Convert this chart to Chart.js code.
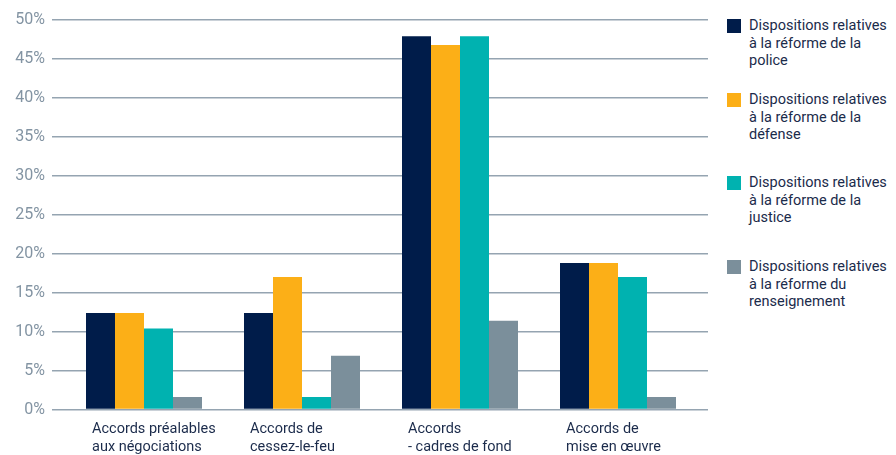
<!DOCTYPE html>
<html lang="fr">
<head>
<meta charset="utf-8">
<script src="https://cdn.jsdelivr.net/npm/chart.js@4/dist/chart.umd.min.js"></script>
<style>
  html, body { margin: 0; padding: 0; background: #fff; }
  #wrap { position: relative; width: 896px; height: 455px; overflow: hidden; font-family: Roboto, sans-serif; }
  #plot { position: absolute; left: 0; top: 0; width: 720px; height: 455px; }
  .leg-item { position: absolute; left: 727px; width: 169px; }
  .leg-box { position: absolute; left: 0; top: 0; width: 14px; height: 14px; }
  .leg-text { position: absolute; left: 22px; top: -2px; font-size: 14.5px; line-height: 17.5px; color: #1b2b4b; white-space: nowrap; }
</style>
</head>
<body>
<div id="wrap">
  <div id="plot"><canvas id="chartReforms"></canvas></div>
  <div id="legend"></div>
</div>
<script>
// === Data ===
const categories = [
    ['Accords préalables', 'aux négociations'],
    ['Accords de', 'cessez-le-feu'],
    ['Accords', '- cadres de fond'],
    ['Accords de', 'mise en œuvre']
];
const seriesNames = [
    ['Dispositions relatives', 'à la réforme de la', 'police'],
    ['Dispositions relatives', 'à la réforme de la', 'défense'],
    ['Dispositions relatives', 'à la réforme de la', 'justice'],
    ['Dispositions relatives', 'à la réforme du', 'renseignement']
];
const police = [12.4, 12.4, 47.9, 18.8];
const defense = [12.4, 17.0, 46.8, 18.8];
const justice = [10.4, 1.6, 47.9, 17.0];
const renseignement = [1.6, 6.9, 11.4, 1.6];
const yTicks = [0, 5, 10, 15, 20, 25, 30, 35, 40, 45, 50];

const seriesColors = ['#001c4a', '#fcaf17', '#00b2b0', '#7b8f9b'];
const legendTops = [19, 93, 176, 260];

const gridColor = '#95a4b1';
const tickColor = '#8394a3';
const textColor = '#1b2b4b';

// === Chart ===
const datasets = [police, defense, justice, renseignement].map((values, i) => ({
    label: seriesNames[i].join(' '),
    data: values,
    backgroundColor: seriesColors[i],
    borderWidth: 0,
    categoryPercentage: 116 / 158,
    barPercentage: 1.0
}));

const ctx = document.getElementById('chartReforms').getContext('2d');
new Chart(ctx, {
    type: 'bar',
    data: { labels: categories, datasets: datasets },
    options: {
        responsive: true,
        maintainAspectRatio: false,
        animation: false,
        layout: { padding: { top: 20, right: 12, bottom: 0, left: 0 } },
        plugins: {
            legend: { display: false },
            tooltip: { enabled: false }
        },
        scales: {
            x: {
                grid: { display: false, drawTicks: false },
                border: { display: false },
                ticks: {
                    align: 'start',
                    labelOffset: -52,
                    padding: 11,
                    maxRotation: 0,
                    autoSkip: false,
                    color: textColor,
                    font: { family: 'Roboto', size: 14.5, lineHeight: 1.24 }
                },
                afterFit: (scale) => {
                    // labels are shifted left, so no extra side margin is needed
                    scale.height = 45.5;
                    scale.paddingLeft = 0;
                    scale.paddingRight = 0;
                }
            },
            y: {
                min: 0,
                max: 50,
                afterBuildTicks: (scale) => { scale.ticks = yTicks.map(v => ({ value: v })); },
                ticks: {
                    padding: 7,
                    color: tickColor,
                    font: { family: 'Roboto', size: 16 },
                    callback: (v) => v + '%'
                },
                grid: { color: gridColor, lineWidth: 1.5, tickLength: 13 },
                border: { display: false },
                afterFit: (scale) => { scale.width = 65; }
            },
            y2: {
                position: 'right',
                min: 0,
                max: 50,
                afterBuildTicks: (scale) => { scale.ticks = yTicks.map(v => ({ value: v })); },
                ticks: { display: false },
                grid: { drawOnChartArea: false, color: gridColor, lineWidth: 1.5, tickLength: 11 },
                border: { display: false },
                afterFit: (scale) => { scale.width = 11; }
            }
        }
    }
});

// === Legend (multi-line labels) ===
const legend = document.getElementById('legend');
seriesNames.forEach((lines, i) => {
    const item = document.createElement('div');
    item.className = 'leg-item';
    item.style.top = legendTops[i] + 'px';
    item.innerHTML = `<div class="leg-box" style="background:${seriesColors[i]}"></div>` +
        `<div class="leg-text">${lines.join('<br>')}</div>`;
    legend.appendChild(item);
});
</script>
</body>
</html>
